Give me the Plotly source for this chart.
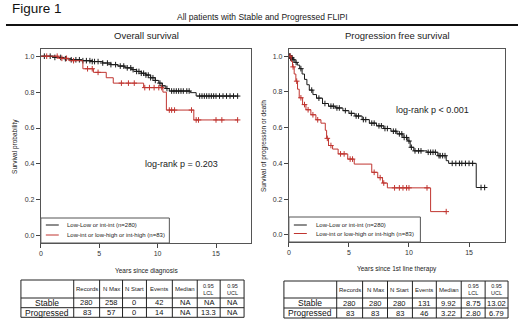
import numpy as np
import plotly.graph_objects as go

W, H = 520, 321
FONT = "Liberation Sans, Arial, sans-serif"
BLACK = "#1a1a1a"
RED = "#c03530"

# ---------------- data ----------------
# Overall survival (left panel)
os_stable_t = [0, 1.2, 2.0, 2.6, 3.5, 4.4, 5.3, 6.0, 6.6, 7.2, 7.8, 8.2, 8.6, 9.0, 9.4, 9.8,
               10.1, 10.4, 10.7, 11.0, 12.8, 13.3]
os_stable_s = [1.0, 0.993, 0.986, 0.98, 0.975, 0.97, 0.962, 0.953, 0.945, 0.935, 0.925, 0.915,
               0.905, 0.895, 0.88, 0.865, 0.85, 0.835, 0.82, 0.806, 0.797, 0.778]
os_stable_end = 16.9
os_stable_cens = [0.3, 0.8, 1.2, 1.7, 2.1, 2.6, 3.0, 3.3, 3.6, 3.9, 4.2, 4.4, 4.6, 4.9, 5.3, 5.7,
                  6.0, 6.4, 6.8, 7.1, 7.4, 7.7, 7.9, 8.2, 8.4, 8.6, 8.8, 9.0, 9.2, 9.4, 9.6, 9.8,
                  10.2, 10.4, 10.8, 11.2, 11.4, 11.6, 11.8, 12.0, 12.2, 12.5, 12.7, 13.6, 13.8,
                  14.0, 14.2, 14.4, 14.6, 14.8, 15.0, 15.3, 15.6, 15.9, 16.2, 16.5, 16.85]

os_prog_t = [0, 1.5, 2.4, 3.6, 4.5, 5.6, 6.2, 8.8, 10.45, 10.75, 13.1]
os_prog_s = [1.0, 0.988, 0.975, 0.93, 0.91, 0.88, 0.85, 0.825, 0.80, 0.70, 0.645]
os_prog_end = 16.9
os_prog_cens = [0.5, 1.4, 1.8, 2.2, 2.8, 4.0, 4.4, 4.9, 6.9, 7.5, 8.0, 8.9, 9.3, 9.7, 10.1,
                10.35, 11.0, 11.2, 11.45, 12.9, 13.3, 13.5, 15.0, 15.5, 16.85]

# Progression free survival (right panel)
pfs_stable_t = [0, 0.15, 0.3, 0.5, 0.7, 0.9, 1.1, 1.3, 1.5, 1.7, 2.0, 2.3, 2.8, 3.3, 3.9, 4.5,
                5.0, 5.5, 6.1, 6.7, 7.3, 7.9, 8.5, 9.0, 9.5, 9.9, 10.1, 10.4, 11.5, 12.4, 13.1,
                13.3, 15.6]
pfs_stable_s = [1.0, 0.99, 0.98, 0.965, 0.95, 0.93, 0.90, 0.87, 0.84, 0.81, 0.785, 0.765, 0.735,
                0.72, 0.71, 0.695, 0.68, 0.665, 0.645, 0.625, 0.61, 0.595, 0.58, 0.565, 0.545,
                0.525, 0.49, 0.47, 0.462, 0.443, 0.415, 0.40, 0.265]
pfs_stable_end = 16.4
pfs_stable_cens = [0.05, 0.1, 0.15, 0.2, 0.25, 0.35, 0.6, 1.0, 1.9, 2.5, 3.0, 3.5, 3.7, 4.0,
                   4.2, 4.7, 5.2, 5.6, 5.8, 6.2, 6.4, 6.9, 7.1, 7.5, 7.7, 8.0, 8.2, 8.7, 8.9,
                   9.2, 9.4, 9.6, 9.8, 10.0, 10.2, 10.5, 10.8, 11.0, 11.6, 11.8, 12.0, 12.2,
                   12.5, 12.6, 12.8, 13.0, 13.6, 13.9, 14.2, 14.4, 14.7, 15.0, 15.3, 16.0, 16.3]

pfs_prog_t = [0, 0.2, 0.3, 0.44, 0.58, 0.72, 0.86, 1.14, 1.42, 1.83, 2.25, 2.67, 3.03, 3.14,
              3.3, 3.64, 4.1, 4.9, 5.44, 6.9, 7.4, 7.8, 8.2, 11.8]
pfs_prog_s = [1.0, 0.97, 0.94, 0.90, 0.86, 0.815, 0.767, 0.729, 0.70, 0.672, 0.644, 0.625,
              0.585, 0.54, 0.50, 0.48, 0.453, 0.424, 0.396, 0.35, 0.32, 0.29, 0.263, 0.13]
pfs_prog_end = 13.1
pfs_prog_cens = [0.1, 0.35, 0.65, 1.0, 1.3, 1.6, 2.0, 2.4, 3.2, 3.5, 4.3, 4.6, 5.1, 5.3, 7.1,
                 7.6, 7.9, 8.8, 9.2, 9.5, 9.8, 10.0, 11.5, 13.1]

legend_labels = ["Low-Low or int-int (n=280)", "Low-int or low-high or int-high (n=83)"]
yticks = [0.0, 0.2, 0.4, 0.6, 0.8, 1.0]
xticks = [0, 5, 10, 15]

table_cols = ["Records", "N Max", "N Start", "Events", "Median", "0.95<br>LCL", "0.95<br>UCL"]
table_rows = ["Stable", "Progressed"]
os_table = [["280", "258", "0", "42", "NA", "NA", "NA"],
            ["83", "57", "0", "14", "NA", "13.3", "NA"]]
pfs_table = [["280", "280", "280", "131", "9.92", "8.75", "13.02"],
             ["83", "83", "83", "46", "3.22", "2.80", "6.79"]]

# ---------------- helpers ----------------
def px(x):
    return x / W


def py(y):
    return 1 - y / H


def step_xy(t, s, end):
    return list(t) + [end], list(s) + [s[-1]]


def cens_y(t, s, c):
    idx = np.searchsorted(np.array(t), np.array(c), side="right") - 1
    return list(np.array(s)[idx])


fig = go.Figure()

panels = [
    ("x", "y", [(os_stable_t, os_stable_s, os_stable_end, os_stable_cens, BLACK),
                (os_prog_t, os_prog_s, os_prog_end, os_prog_cens, RED)]),
    ("x2", "y2", [(pfs_stable_t, pfs_stable_s, pfs_stable_end, pfs_stable_cens, BLACK),
                  (pfs_prog_t, pfs_prog_s, pfs_prog_end, pfs_prog_cens, RED)]),
]
for xa, ya, curves in panels:
    for t, s, end, cens, col in curves:
        xs, ys = step_xy(t, s, end)
        fig.add_trace(go.Scatter(x=xs, y=ys, mode="lines", line=dict(color=col, width=1, shape="hv"),
                                 xaxis=xa, yaxis=ya, showlegend=False, hoverinfo="skip"))
        fig.add_trace(go.Scatter(x=cens, y=cens_y(t, s, cens), mode="markers",
                                 marker=dict(symbol="cross-thin", size=4, line=dict(width=1, color=col)),
                                 xaxis=xa, yaxis=ya, showlegend=False, hoverinfo="skip"))

axis_common = dict(showline=True, mirror=True, linecolor="#555", linewidth=1, ticks="outside",
                   ticklen=4, tickcolor="#444", showgrid=False, zeroline=False,
                   tickfont=dict(family=FONT, size=7, color="#333"))

fig.update_layout(
    width=W, height=H, margin=dict(l=0, r=0, t=0, b=0),
    paper_bgcolor="white", plot_bgcolor="white",
    xaxis=dict(domain=[px(39), px(250)], range=[0, 18], tickvals=xticks, anchor="y", **axis_common),
    yaxis=dict(domain=[py(243), py(49)], range=[-0.04, 1.04], tickvals=yticks, tickformat=".1f",
               anchor="x", **axis_common),
    xaxis2=dict(domain=[px(288), px(505)], range=[0, 18], tickvals=xticks, anchor="y2", **axis_common),
    yaxis2=dict(domain=[py(242), py(49)], range=[-0.04, 1.04], tickvals=yticks, tickformat=".1f",
                anchor="x2", **axis_common),
)

shapes = []
ann = []


def text(x, y, s, size, color="#222", xanchor="center", angle=0):
    ann.append(dict(x=px(x), y=py(y), xref="paper", yref="paper", text=s, showarrow=False,
                    xanchor=xanchor, yanchor="middle", textangle=angle,
                    font=dict(family=FONT, size=size, color=color)))


def line(x0, y0, x1, y1, color="#222", width=1):
    shapes.append(dict(type="line", xref="paper", yref="paper", x0=px(x0), y0=py(y0),
                       x1=px(x1), y1=py(y1), line=dict(color=color, width=width)))


# headers
text(8, 8, "Figure 1", 13.5, color="#111", xanchor="left")
text(262, 17.5, "All patients with Stable and Progressed FLIPI", 8.5)
line(4, 25, 518, 25, color="#111", width=2)
text(145, 35.5, "Overall survival", 9.5)
text(397, 35.5, "Progression free survival", 9.5)

# axis titles
text(145, 271, "Years since diagnosis", 6.5)
text(397, 269, "Years since 1st line therapy", 6.5)
text(13, 146, "Survival probability", 6.5, angle=-90)
text(263, 146, "Survival of progression or death", 6.5, angle=-90)

# log-rank
text(180, 164, "log-rank p = 0.203", 9)
text(432, 110, "log-rank p < 0.001", 9)

# legends
for (lx0, lx1, ly0, ly1, seg0, seg1, tx, rows_y) in [
        (39, 168, 218, 243, 44, 57, 63, [225, 235]),
        (288, 420, 217, 242, 293, 306, 313, [225, 233.5])]:
    shapes.append(dict(type="rect", xref="paper", yref="paper", x0=px(lx0), x1=px(lx1),
                       y0=py(ly1), y1=py(ly0), line=dict(color="#555", width=1),
                       fillcolor="white"))
    for lab, col, yy in zip(legend_labels, [BLACK, RED], rows_y):
        line(seg0, yy, seg1, yy, color=col, width=1)
        text(tx, yy, lab, 6, xanchor="left")

# tables
for (cols_x, rows_y, vals) in [
        ([19, 72, 98, 121, 145, 171, 196, 219, 243], [280, 298, 307.7, 317.3], os_table),
        ([283, 336, 362, 387, 412, 436, 461, 485, 508], [281, 298, 308, 318], pfs_table)]:
    for xx in cols_x:
        line(xx, rows_y[0], xx, rows_y[-1], color="#222", width=1)
    for yy in rows_y:
        line(cols_x[0], yy, cols_x[-1], yy, color="#222", width=1)
    for j, c in enumerate(table_cols):
        cx = (cols_x[j + 1] + cols_x[j + 2]) / 2
        cy = (rows_y[0] + rows_y[1]) / 2
        text(cx, cy, c, 5.5 if "<br>" in c else 6)
    for i, rname in enumerate(table_rows):
        cy = (rows_y[i + 1] + rows_y[i + 2]) / 2
        text((cols_x[0] + cols_x[1]) / 2, cy, rname, 8.5, color="#111")
        for j, v in enumerate(vals[i]):
            cx = (cols_x[j + 1] + cols_x[j + 2]) / 2
            text(cx, cy, v, 7.5, color="#111")

fig.update_layout(shapes=shapes, annotations=ann)
fig.write_html("out.html", config={"displayModeBar": False},
               post_script="document.body.style.margin='0';document.body.style.padding='0';")
